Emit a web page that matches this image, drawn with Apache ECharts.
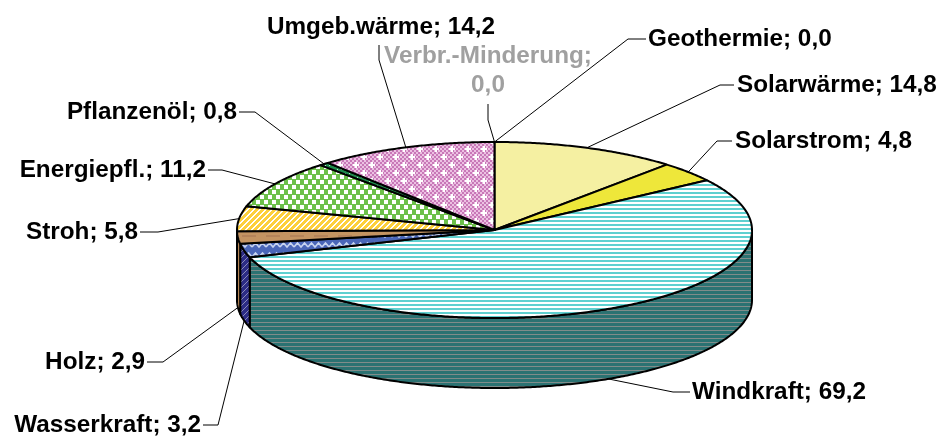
<!DOCTYPE html>
<html>
<head>
<meta charset="utf-8">
<style>
  html, body { margin: 0; padding: 0; background: #fff; }
  #chart { width: 941px; height: 445px; }
</style>
<script src="https://cdn.jsdelivr.net/npm/echarts@6/dist/echarts.min.js"></script>
</head>
<body>
<div id="chart"></div>
<script>
// clockwise from 12 o'clock
const categories = ['Geothermie', 'Solarwärme', 'Solarstrom', 'Windkraft', 'Wasserkraft', 'Holz', 'Stroh', 'Energiepfl.', 'Pflanzenöl', 'Umgeb.wärme', 'Verbr.-Minderung'];
const values = [0.0, 14.8, 4.8, 69.2, 3.2, 2.9, 5.8, 11.2, 0.8, 14.2, 0.0];

// pie geometry
const cx = 494.5, cy = 230, rx = 257.5, ry = 88, depth = 70;
const FONT = 'bold 24.3px "Liberation Sans", Arial, sans-serif';

// leader line bends and text anchor per slice
const labelLayout = [
  { elbow: [[628, 39], [646, 39]], x: 648, y: 39, align: 'left' },
  { elbow: [[720, 85], [734, 85]], x: 737, y: 85, align: 'left' },
  { elbow: [[717, 141], [732, 141]], x: 735, y: 141, align: 'left' },
  { elbow: [[673, 392], [690, 392]], x: 692, y: 392, align: 'left', wall: true },
  { elbow: [[218, 425], [203, 425]], x: 201, y: 425, align: 'right', wall: true },
  { elbow: [[163, 362], [147, 362]], x: 145, y: 362, align: 'right', wall: true },
  { elbow: [[158, 232], [140, 232]], x: 138, y: 232, align: 'right' },
  { elbow: [[222, 170], [208, 170]], x: 206, y: 170, align: 'right' },
  { elbow: [[255, 112], [239, 112]], x: 237, y: 112, align: 'right' },
  { elbow: [[379, 60], [379, 45]], x: 381, y: 27, align: 'center' },
  { elbow: [[488, 120], [488, 104]], x: 488, y: 71, align: 'center', color: '#a0a0a0', lines: true }
];

function tile(w, h, base, draw) {
  const c = document.createElement('canvas');
  c.width = w; c.height = h;
  const g = c.getContext('2d');
  g.fillStyle = base;
  g.fillRect(0, 0, w, h);
  draw(g);
  return { image: c, repeat: 'repeat' };
}

function eachPixel(g, w, h, color, test) {
  g.fillStyle = color;
  for (let y = 0; y < h; y++) {
    for (let x = 0; x < w; x++) {
      if (test(x, y)) g.fillRect(x, y, 1, 1);
    }
  }
}

const topFills = [
  '#f5f0a2',
  '#f5f0a2',
  '#eee73a',
  tile(4, 4, '#5fd0d0', g => { g.fillStyle = '#fff'; g.fillRect(0, 2, 4, 2); }),
  tile(14, 10, '#4a66b8', g => {
    g.strokeStyle = '#c8d4f0'; g.lineWidth = 1.6;
    g.beginPath(); g.moveTo(0, 7); g.lineTo(3.5, 3); g.lineTo(7, 7); g.lineTo(10.5, 3); g.lineTo(14, 7); g.stroke();
  }),
  tile(24, 8, '#c49462', g => { g.fillStyle = '#b5845a'; g.fillRect(2, 3, 14, 2); }),
  tile(6, 6, '#fdd03c', g => eachPixel(g, 6, 6, '#fff', (x, y) => (x + y) % 6 < 2)),
  tile(8, 10, '#6cc04a', g => { g.fillStyle = '#fff'; g.fillRect(0, 0, 4, 4); g.fillRect(4, 5, 4, 4); }),
  tile(4, 4, '#1f8a4c', g => { g.fillStyle = '#bfe8cc'; g.fillRect(1, 1, 1, 1); }),
  tile(16, 16, '#c878b8', g => {
    eachPixel(g, 16, 16, '#ecc0e2', (x, y) => (Math.floor(x / 2) + Math.floor(y / 2)) % 2 === 0);
    g.fillStyle = '#fff';
    g.fillRect(3, 2, 2, 6); g.fillRect(1, 4, 6, 2);
    g.fillRect(11, 10, 2, 6); g.fillRect(9, 12, 6, 2);
  }),
  '#f5f0a2'
];

const wallFills = {
  3: tile(4, 4, '#2b7272', g => { g.fillStyle = '#808c8a'; g.fillRect(0, 2, 4, 1); }),
  4: tile(6, 6, '#2c2c86', g => eachPixel(g, 6, 6, '#8a8ab8', (x, y) => (x + y) % 6 === 0)),
  5: '#c08e5c'
};

function pt(deg, yOff) {
  const a = deg * Math.PI / 180;
  return [cx + rx * Math.sin(a), cy - ry * Math.cos(a) + (yOff || 0)];
}

function arcPoints(from, to, yOff) {
  const pts = [];
  const n = Math.max(2, Math.ceil((to - from) / 0.5));
  for (let i = 0; i <= n; i++) pts.push(pt(from + (to - from) * i / n, yOff));
  return pts;
}

const total = values.reduce((a, b) => a + b, 0);
const starts = [];
values.reduce((sum, v, i) => { starts[i] = sum; return sum + v; }, 0);

function renderSlice(params, api) {
  const i = api.value(0);
  const v = api.value(1);
  const from = starts[i] / total * 360;
  const to = from + v / total * 360;
  const mid = (from + to) / 2;
  const children = [];
  const line = { stroke: '#000', lineWidth: 2, lineJoin: 'round' };

  // front wall, only the part facing the viewer
  const wFrom = Math.max(from, 90), wTo = Math.min(to, 270);
  if (v > 0 && wTo > wFrom) {
    const upper = arcPoints(wFrom, wTo, 0);
    const lower = arcPoints(wFrom, wTo, depth).reverse();
    children.push({
      type: 'polygon',
      shape: { points: upper.concat(lower) },
      style: Object.assign({ fill: wallFills[i] || '#c08e5c' }, line)
    });
  }

  // top face
  if (v > 0) {
    children.push({
      type: 'polygon',
      shape: { points: [[cx, cy]].concat(arcPoints(from, to, 0)) },
      style: Object.assign({ fill: topFills[i] }, line)
    });
  }

  // leader line and label
  const lay = labelLayout[i];
  children.push({
    type: 'polyline',
    z2: 5,
    shape: { points: [pt(mid, lay.wall ? depth : 0)].concat(lay.elbow) },
    style: { fill: null, stroke: '#000', lineWidth: 1 }
  });
  const num = v.toFixed(1).replace('.', ',');
  children.push({
    type: 'text',
    z2: 6,
    style: {
      text: categories[i] + ';' + (lay.lines ? '\n' : ' ') + num,
      x: lay.x,
      y: lay.y,
      align: lay.align,
      verticalAlign: 'middle',
      font: FONT,
      lineHeight: 29,
      fill: lay.color || '#000'
    }
  });
  return { type: 'group', children: children };
}

const myChart = echarts.init(document.getElementById('chart'), null, { renderer: 'canvas' });
myChart.setOption({
  backgroundColor: '#fff',
  animation: false,
  series: [{
    type: 'custom',
    coordinateSystem: 'none',
    renderItem: renderSlice,
    data: values.map((v, i) => [i, v])
  }]
});
</script>
</body>
</html>
